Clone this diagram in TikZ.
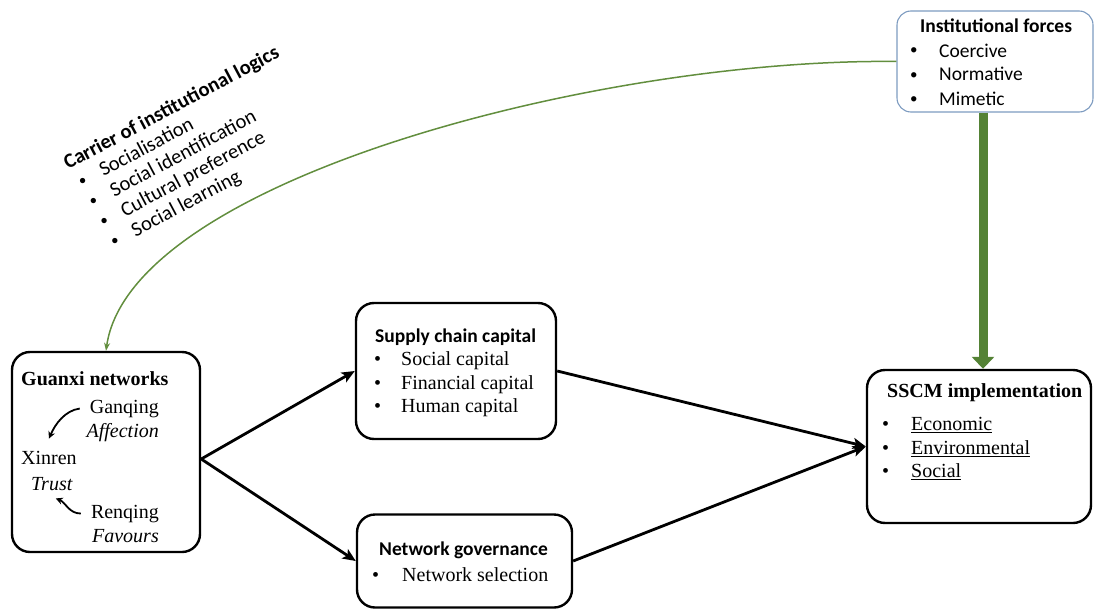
\documentclass[tikz,border=0pt]{standalone}
\usepackage{fontspec}
\setmainfont{Liberation Serif}
\newfontfamily\calibri{Carlito}
\usepackage{tikz}
\usetikzlibrary{arrows.meta, calc}
\definecolor{forcegreen}{RGB}{84,130,53}
\definecolor{linkgreen}{RGB}{98,142,62}
\definecolor{forceblue}{RGB}{125,155,192}
\tikzset{
  box/.style={rectangle, draw=black, line width=2.4pt, rounded corners=18pt, inner sep=0pt},
  forcebox/.style={rectangle, draw=forceblue, line width=1.1pt, rounded corners=14pt, inner sep=0pt},
  txt/.style={inner sep=0pt, anchor=base west, font=\fontsize{20}{24}\selectfont},
  rmhead/.style={txt, font=\bfseries\fontsize{20}{24}\selectfont},
  sftxt/.style={txt, font=\calibri\fontsize{19.5}{24}\selectfont},
  sfhead/.style={txt, font=\calibri\bfseries\fontsize{19.5}{24}\selectfont},
  sfdot/.style={txt, font=\calibri\fontsize{15}{24}\selectfont},
  arrow/.style={-{Stealth[length=13pt,width=11pt,inset=3pt]}, line width=2.8pt},
  smallarrow/.style={-{Stealth[length=7pt,width=7pt]}, line width=1.8pt},
  bigarrow/.style={-{Triangle[length=12pt,width=22pt]}, line width=9pt, color=forcegreen},
  linkarrow/.style={-{Stealth[length=8pt,width=6pt]}, line width=1.5pt, color=linkgreen}
}
\begin{document}
\begin{tikzpicture}[x=1pt, y=-1pt]
  \useasboundingbox (0,0) rectangle (1097,610);

  % boxes
  \node[box, minimum width=188pt, minimum height=200pt] (guanxi) at (106,452) {};
  \node[box, minimum width=200pt, minimum height=136pt] (scc) at (456,371) {};
  \node[box, minimum width=215pt, minimum height=93pt] (netgov) at (464.5,561) {};
  \node[box, minimum width=224pt, minimum height=153pt] (sscm) at (979,446.5) {};
  \node[forcebox, minimum width=196pt, minimum height=101pt] (inst) at (995,61.5) {};

  % guanxi networks
  \node[rmhead] (gx-title) at (21,385) {Guanxi networks};
  \node[txt, anchor=base east] (ganqing) at (159,413) {Ganqing};
  \node[txt, anchor=base east] (affection) at (159,437) {\itshape Affection};
  \node[txt] (xinren) at (21,464) {Xinren};
  \node[txt] (trust) at (31,490) {\itshape Trust};
  \node[txt, anchor=base east] (renqing) at (159,518) {Renqing};
  \node[txt, anchor=base east] (favours) at (159,542) {\itshape Favours};
  \draw[smallarrow] ([xshift=-10pt]ganqing.west) .. controls +(-15,2) and +(6,-14) .. ([yshift=12pt]xinren.north);
  \draw[smallarrow] ([xshift=-10pt]renqing.west) .. controls +(-12,0) and +(10,4) .. ([shift={(4pt,-8pt)}]trust.south);

  % supply chain capital
  \node[sfhead] (scc-title) at (375,342) {Supply chain capital};
  \foreach \t [count=\i] in {Social capital, Financial capital, Human capital} {
    \node[txt] (scc-b\i) at (374,342+23.6*\i) {\textbullet};
    \node[txt] (scc-\i) at (401,342+23.6*\i) {\t};
  }

  % network governance
  \node[sfhead] (ng-title) at (379,555) {Network governance};
  \node[txt] (ng-b1) at (372,581) {\textbullet};
  \node[txt] (ng-1) at (402,581) {Network selection};

  % sscm implementation
  \node[rmhead] (sscm-title) at (887,397) {SSCM implementation};
  \foreach \t [count=\i] in {Economic, Environmental, Social} {
    \node[txt] (sscm-b\i) at (882,407+23.6*\i) {\textbullet};
    \node[txt] (sscm-\i) at (911,407+23.6*\i) {\underline{\t}};
  }

  % institutional forces
  \node[sfhead] (inst-title) at (920,33) {Institutional forces};
  \foreach \t [count=\i] in {Coercive, Normative, Mimetic} {
    \node[sfdot] (inst-b\i) at (910,31+24*\i) {\textbullet};
    \node[sftxt] (inst-\i) at (939,33+24*\i) {\t};
  }

  % carrier of institutional logics
  \begin{scope}[shift={(68,170)}, rotate=28, transform shape,
      every node/.append style={font=\calibri\fontsize{20.5}{24}\selectfont}]
    \node[sfhead, font=\calibri\bfseries\fontsize{20.5}{24}\selectfont] (car-title) at (0,0) {Carrier of institutional logics};
    \foreach \t [count=\i] in {Socialisation, Social identification, Cultural preference, Social learning} {
      \node[sfdot, font=\calibri\fontsize{15}{24}\selectfont] (car-b\i) at (4,22.8*\i-2) {\textbullet};
      \node[sftxt, font=\calibri\fontsize{20.5}{24}\selectfont] (car-\i) at (28,22.8*\i) {\t};
    }
  \end{scope}

  % connectors
  \draw[arrow] ([yshift=-7pt]guanxi.east) -- (scc.west);
  \draw[arrow] ([yshift=-7pt]guanxi.east) -- (netgov.west);
  \draw[arrow] (scc.east) -- (sscm.west);
  \draw[arrow] (netgov.east) -- (sscm.west);
  \coordinate (tip) at ([xshift=4pt]sscm.north);
  \draw[bigarrow] (tip |- inst.south) -- (tip);
  \draw[linkarrow] (inst.west) .. controls (600,58) and (130,180) .. (guanxi.north);
\end{tikzpicture}
\end{document}
